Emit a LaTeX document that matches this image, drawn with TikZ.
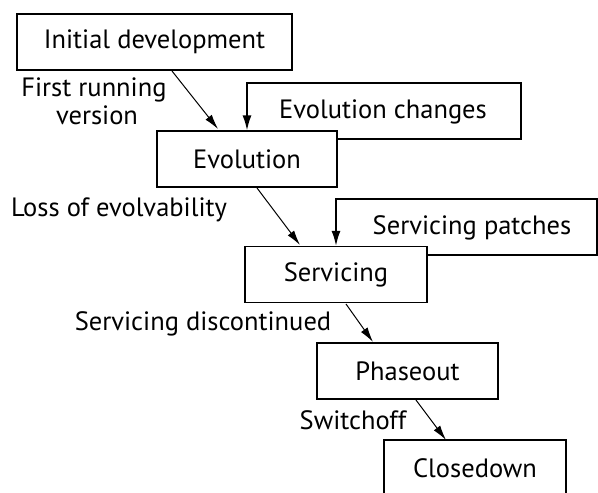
\documentclass[tikz,border=0pt]{standalone}
\usepackage{fontspec}
\setmainfont{PT Sans}
\usetikzlibrary{arrows.meta,calc}
\begin{document}
\begin{tikzpicture}[x=1pt,y=-1pt,
  every node/.style={font=\fontsize{26.5}{30}\selectfont},
  stage/.style={draw,line width=1.4pt,minimum height=56pt,inner sep=0pt},
  lbl/.style={inner sep=0pt},
  flow/.style={line width=1pt,-{Latex[length=15pt,width=8pt]}},
  loopline/.style={line width=1.4pt,-{Latex[length=15pt,width=9pt]}}]
\useasboundingbox[fill=white] (0,0) rectangle (598,493);
% stages
\node[stage,minimum width=275pt] (init) at (154.5,42) {Initial development};
\node[stage,minimum width=180pt] (evo) at (247,159) {Evolution};
\node[stage,minimum width=182pt] (serv) at (336,274.5) {Servicing};
\node[stage,minimum width=181pt] (phase) at (407.5,371) {Phaseout};
\node[stage,minimum width=182pt] (close) at (475,468) {Closedown};
% loop texts
\node[lbl] (evch) at (383,112) {Evolution changes};
\node[lbl] (svp) at (472,228) {Servicing patches};
% transition labels
\node[lbl] (first) at (94,90) {First running};
\node[lbl] (vers) at (97,115) {version};
\node[lbl] (loss) at (119,210) {Loss of evolvability};
\node[lbl] (disc) at (203,324) {Servicing discontinued};
\node[lbl] (swo) at (353,420) {Switchoff};
% loop corners
\coordinate (e1) at (521,139);
\coordinate (e2) at (521,83);
\coordinate (e3) at (247,83);
\coordinate (s1) at (597,255);
\coordinate (s2) at (597,199);
\coordinate (s3) at (336,199);
% flows
\draw[flow] (172,71) -- (218,129);
\draw[flow] (257,188) -- (300,245);
\draw[flow] (346,304) -- (373,342);
\draw[flow] (416,400) -- (446,440);
% loops
\draw[loopline] (evo.east |- e1) -- (e1) -- (e2) -- (e3) -- (evo.north);
\draw[loopline] (serv.east |- s1) -- (s1) -- (s2) -- (s3) -- (serv.north);
\end{tikzpicture}
\end{document}
